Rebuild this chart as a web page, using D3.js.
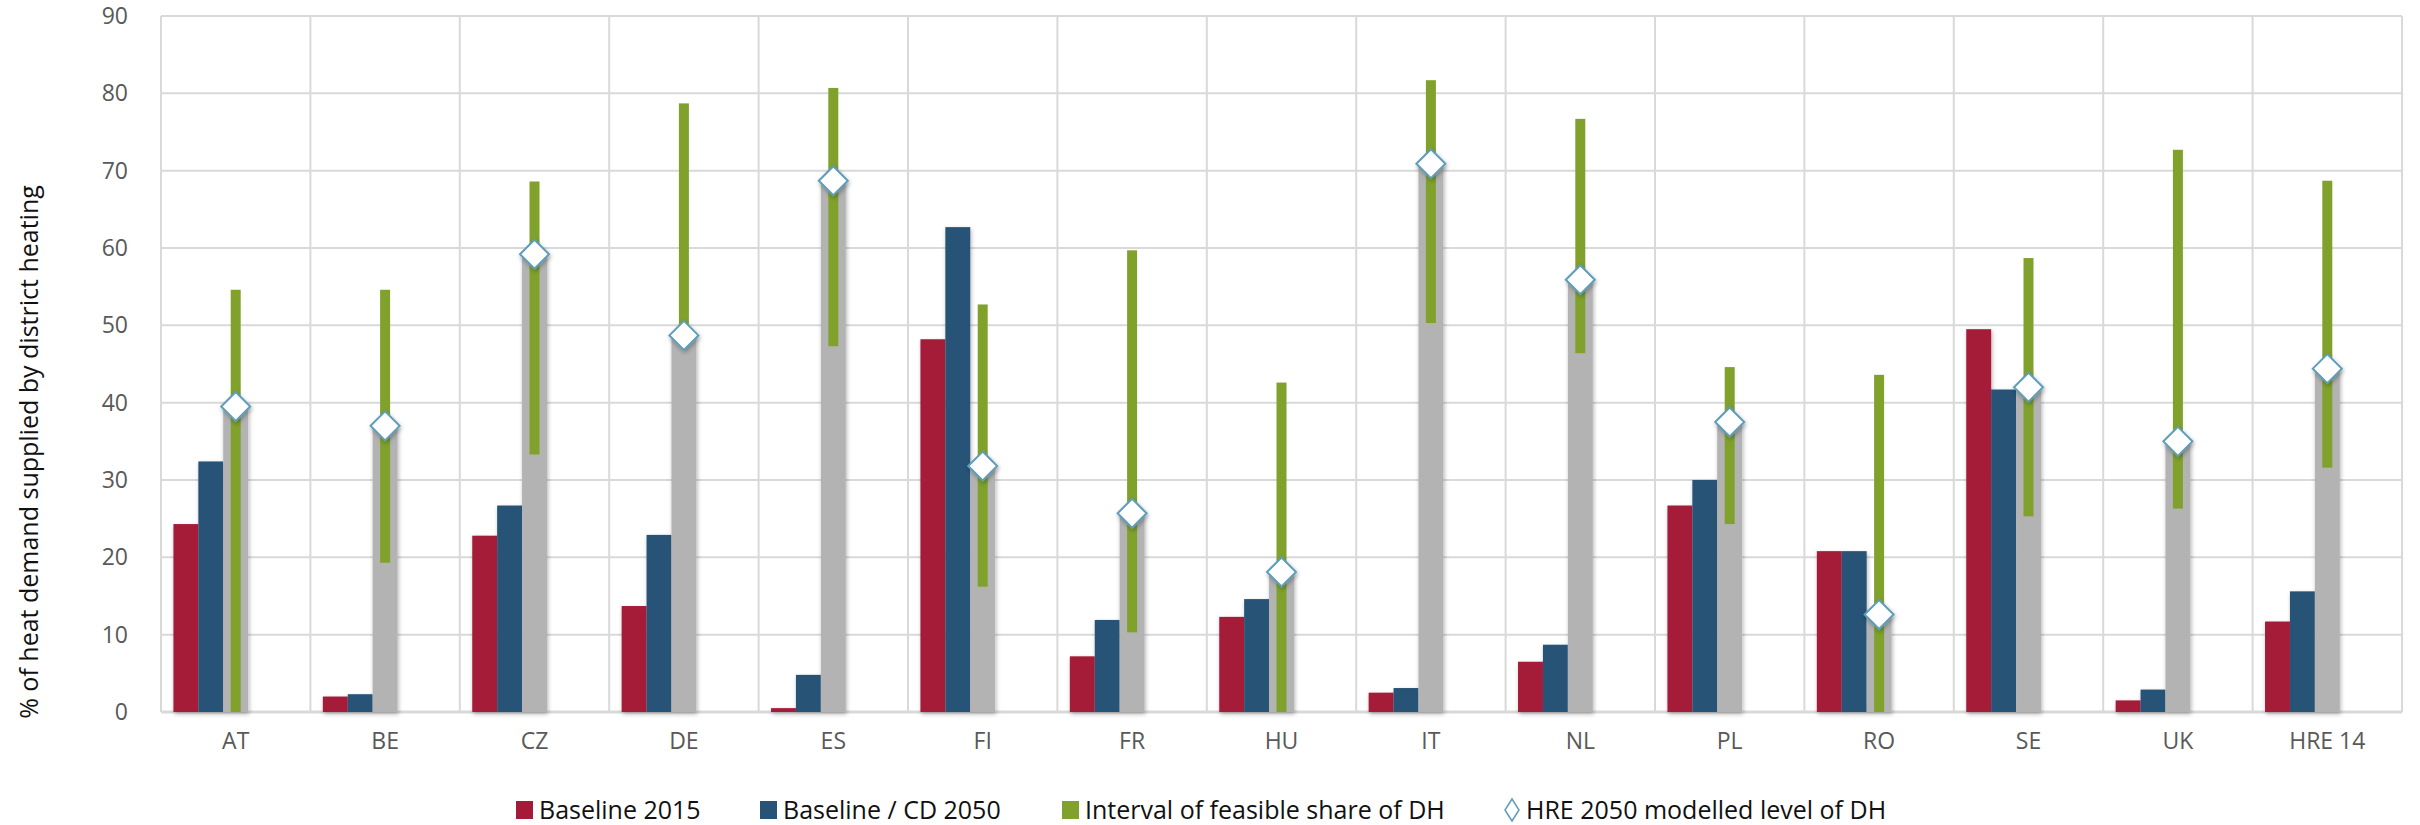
<!DOCTYPE html>
<html>
<head>
<meta charset="utf-8">
<script src="https://cdn.jsdelivr.net/npm/d3@7"></script>
<style>
  html, body { margin: 0; padding: 0; background: #fff; }
  svg { display: block; font-family: "Open Sans", "Noto Sans", sans-serif; }
</style>
</head>
<body>
<svg id="chart"></svg>
<script>
// Données
const categories = ["AT", "BE", "CZ", "DE", "ES", "FI", "FR", "HU", "IT", "NL", "PL", "RO", "SE", "UK", "HRE 14"];
const baseline2015 = [24.3, 2.0, 22.8, 13.7, 0.5, 48.2, 7.2, 12.3, 2.5, 6.5, 26.7, 20.8, 49.5, 1.5, 11.7];
const baselineCD2050 = [32.4, 2.3, 26.7, 22.9, 4.8, 62.7, 11.9, 14.6, 3.1, 8.7, 30.0, 20.8, 41.7, 2.9, 15.6];
const hre2050 = [39.5, 37.0, 59.2, 48.7, 68.7, 31.8, 25.7, 18.1, 70.9, 55.9, 37.5, 12.6, 42.0, 35.0, 44.4];
const feasibleLow = [0, 19.3, 33.3, 48.0, 47.3, 16.2, 10.3, 0, 50.3, 46.4, 24.3, 0, 25.3, 26.3, 31.6];
const feasibleHigh = [54.6, 54.6, 68.6, 78.7, 80.7, 52.7, 59.7, 42.6, 81.7, 76.7, 44.6, 43.6, 58.7, 72.7, 68.7];
const yTicks = [0, 10, 20, 30, 40, 50, 60, 70, 80, 90];
const yTitle = "% of heat demand supplied by district heating";
const legendLabels = ["Baseline 2015", "Baseline / CD 2050", "Interval of feasible share of DH", "HRE 2050 modelled level of DH"];

const colors = { red: "#A51A38", blue: "#265376", gray: "#B3B3B3", green: "#80A22C", diamond: "#5E9DB9", grid: "#D9D9D9", text: "#595959" };

const width = 2420, height = 825;
const plot = { left: 161, right: 2402, top: 16, bottom: 712 };

const svg = d3.select("#chart").attr("width", width).attr("height", height);

// Filtre d'ombre façon Excel
const defs = svg.append("defs");
const shadow = defs.append("filter").attr("id", "shadow")
    .attr("x", "-30%").attr("y", "-10%").attr("width", "160%").attr("height", "130%");
shadow.append("feDropShadow")
    .attr("dx", 1).attr("dy", 2).attr("stdDeviation", 2)
    .attr("flood-color", "#000").attr("flood-opacity", 0.3);

// Échelles
const x = d3.scaleBand().domain(categories).range([plot.left, plot.right]).paddingInner(0).paddingOuter(0);
const slot = d3.scaleBand().domain([0, 1, 2, 3, 4]).range([0, x.bandwidth()]).paddingInner(0).paddingOuter(0.5);
const y = d3.scaleLinear().domain([0, 90]).range([plot.bottom, plot.top]);

// Grille horizontale
svg.append("g")
    .selectAll("line")
    .data(yTicks)
    .enter().append("line")
    .attr("x1", plot.left).attr("x2", plot.right)
    .attr("y1", d => y(d)).attr("y2", d => y(d))
    .attr("stroke", colors.grid)
    .attr("stroke-width", d => d === 0 ? 3 : 2);

// Grille verticale (limites des catégories)
const bounds = categories.map(c => x(c)).concat([plot.right]);
svg.append("g")
    .selectAll("line")
    .data(bounds)
    .enter().append("line")
    .attr("x1", d => d).attr("x2", d => d)
    .attr("y1", plot.top).attr("y2", plot.bottom)
    .attr("stroke", colors.grid)
    .attr("stroke-width", 2);

// Axe Y
const yAxis = svg.append("g")
    .attr("transform", `translate(${plot.left},0)`)
    .call(d3.axisLeft(y).tickValues(yTicks).tickSize(0).tickPadding(33));
yAxis.select(".domain").remove();
yAxis.selectAll("text")
    .attr("fill", colors.text)
    .style("font-size", "23px")
    .style("font-family", "'Open Sans', sans-serif");

// Axe X
const xAxis = svg.append("g")
    .attr("transform", `translate(0,${plot.bottom})`)
    .call(d3.axisBottom(x).tickSize(0).tickPadding(21));
xAxis.select(".domain").remove();
xAxis.selectAll("text")
    .attr("fill", colors.text)
    .style("font-size", "23px")
    .style("font-family", "'Open Sans', sans-serif");

// Titre de l'axe Y
svg.append("text")
    .attr("transform", "translate(38,452) rotate(-90)")
    .attr("text-anchor", "middle")
    .attr("fill", "#111")
    .style("font-size", "25px")
    .text(yTitle);

// Barres
const rows = categories.map((c, i) => ({
    cat: c,
    b15: baseline2015[i],
    b50: baselineCD2050[i],
    hre: hre2050[i],
    lo: feasibleLow[i],
    hi: feasibleHigh[i]
}));

const bars = svg.append("g").attr("filter", "url(#shadow)");
const series = [
    { key: "b15", slot: 0, color: colors.red },
    { key: "b50", slot: 1, color: colors.blue },
    { key: "hre", slot: 2, color: colors.gray }
];
series.forEach(s => {
    bars.append("g")
        .selectAll("rect")
        .data(rows)
        .enter().append("rect")
        .attr("x", d => x(d.cat) + slot(s.slot))
        .attr("width", slot.bandwidth())
        .attr("y", d => y(d[s.key]))
        .attr("height", d => y(0) - y(d[s.key]))
        .attr("fill", s.color);
});

// Intervalle faisable (trait vert)
const greenW = 10;
svg.append("g")
    .selectAll("rect")
    .data(rows)
    .enter().append("rect")
    .attr("x", d => x(d.cat) + slot(2) + slot.bandwidth() / 2 - greenW / 2)
    .attr("width", greenW)
    .attr("y", d => y(d.hi))
    .attr("height", d => y(d.lo) - y(d.hi))
    .attr("fill", colors.green);

// Losanges HRE 2050
const dSize = 14.5;
const diamondPath = `M0,${-dSize}L${dSize},0L0,${dSize}L${-dSize},0Z`;
svg.append("g")
    .attr("filter", "url(#shadow)")
    .selectAll("path")
    .data(rows)
    .enter().append("path")
    .attr("d", diamondPath)
    .attr("transform", d => `translate(${x(d.cat) + slot(2) + slot.bandwidth() / 2},${y(d.hre)})`)
    .attr("fill", "#fff")
    .attr("stroke", colors.diamond)
    .attr("stroke-width", 2);

// Légende
const legendY = 810;
const legendItems = [
    { label: legendLabels[0], color: colors.red, type: "rect", x: 516 },
    { label: legendLabels[1], color: colors.blue, type: "rect", x: 760 },
    { label: legendLabels[2], color: colors.green, type: "rect", x: 1062 },
    { label: legendLabels[3], color: colors.diamond, type: "diamond", x: 1504 }
];
const legend = svg.append("g");
legendItems.forEach(item => {
    const g = legend.append("g").attr("transform", `translate(${item.x},${legendY})`);
    if (item.type === "rect") {
        g.append("rect").attr("x", 0).attr("y", -9).attr("width", 17).attr("height", 18).attr("fill", item.color);
    } else {
        g.append("path").attr("d", "M8,-11L15,0L8,11L1,0Z")
            .attr("fill", "#fff").attr("stroke", item.color).attr("stroke-width", 1.5);
    }
    g.append("text")
        .attr("x", item.type === "rect" ? 23 : 22)
        .attr("y", 0)
        .attr("dy", "0.35em")
        .attr("fill", "#111")
        .style("font-size", "25px")
        .text(item.label);
});
</script>
</body>
</html>
